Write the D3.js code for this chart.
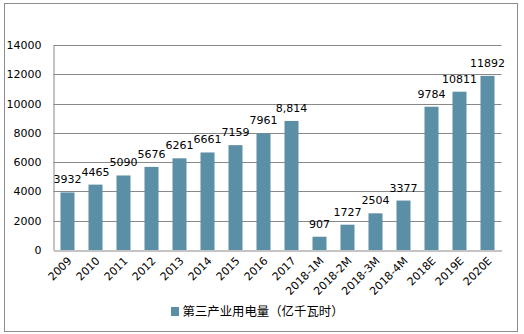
<!DOCTYPE html>
<html>
<head>
<meta charset="utf-8">
<script src="https://cdn.jsdelivr.net/npm/d3@7"></script>
<style>
  html, body { margin: 0; padding: 0; background: #fff; }
  svg { display: block; }
</style>
</head>
<body>
<svg id="chart" width="524" height="334"></svg>
<script>
// Tertiary-industry electricity consumption (100 million kWh)
const categories = ["2009", "2010", "2011", "2012", "2013", "2014", "2015", "2016", "2017",
  "2018-1M", "2018-2M", "2018-3M", "2018-4M", "2018E", "2019E", "2020E"];
const values = [3932, 4465, 5090, 5676, 6261, 6661, 7159, 7961, 8814,
  907, 1727, 2504, 3377, 9784, 10811, 11892];
// Categories whose value label is shown with thousands separators
const groupedLabels = ["2017"];
const yTicks = [0, 2000, 4000, 6000, 8000, 10000, 12000, 14000];
const seriesName = "第三产业用电量（亿千瓦时）";

const W = 524, H = 334;
const plot = { left: 53.5, right: 501.5, top: 45, bottom: 250 };
const barColor = "#5B8FA6";
const gridColor = "#888888";
const font = "'DejaVu Sans', Verdana, sans-serif";

const svg = d3.select("#chart");

// outer frame
svg.append("rect")
  .attr("x", 4.5).attr("y", 3.5)
  .attr("width", 513).attr("height", 328)
  .attr("fill", "#fff")
  .attr("stroke", "#8c8c8c").attr("stroke-width", 1);

const x = d3.scaleBand().domain(categories)
  .range([plot.left, plot.right]).paddingInner(0.5).paddingOuter(0.25);
const y = d3.scaleLinear().domain([0, 14000]).range([plot.bottom, plot.top]);

// horizontal gridlines
svg.append("g").selectAll("line").data(yTicks.filter(d => d > 0)).join("line")
  .attr("x1", plot.left).attr("x2", plot.right)
  .attr("y1", d => Math.round(y(d)) + 0.5).attr("y2", d => Math.round(y(d)) + 0.5)
  .attr("stroke", gridColor).attr("stroke-width", 1);

// y axis labels
const yAxis = svg.append("g")
  .attr("transform", `translate(${plot.left},0)`)
  .call(d3.axisLeft(y).tickValues(yTicks).tickSize(0).tickPadding(12).tickFormat(d3.format("d")));
yAxis.select(".domain").attr("stroke", gridColor);
yAxis.selectAll("text").attr("font-family", font).attr("font-size", 11).attr("fill", "#000");

// bars
svg.append("g").selectAll("rect").data(values).join("rect")
  .attr("x", (d, i) => x(categories[i]))
  .attr("y", d => y(d))
  .attr("width", x.bandwidth())
  .attr("height", d => plot.bottom - y(d))
  .attr("fill", barColor);

// x axis
const xAxis = svg.append("g")
  .attr("transform", `translate(0,${Math.round(plot.bottom) + 0.5})`)
  .call(d3.axisBottom(x).tickSize(0).tickSizeOuter(0));
xAxis.select(".domain").attr("stroke", gridColor);
xAxis.selectAll("text")
  .attr("font-family", font).attr("font-size", 11).attr("fill", "#000")
  .attr("text-anchor", "end")
  .attr("dy", null).attr("y", 0)
  .attr("transform", "translate(5,11) rotate(-45)");

// value labels
const plain = d3.format("d"), grouped = d3.format(",");
svg.append("g").selectAll("text").data(values).join("text")
  .attr("x", (d, i) => x(categories[i]) + x.bandwidth() / 2)
  .attr("y", d => y(d) - 9)
  .attr("text-anchor", "middle")
  .attr("font-family", font).attr("font-size", 11).attr("fill", "#000")
  .text((d, i) => groupedLabels.includes(categories[i]) ? grouped(d) : plain(d));

// legend
const legend = svg.append("g").attr("transform", "translate(171,307)");
legend.append("rect").attr("width", 8).attr("height", 9).attr("fill", barColor);
legend.append("text")
  .attr("x", 11.5).attr("y", 9)
  .attr("font-family", "'Noto Sans CJK SC', sans-serif").attr("font-size", 12.4)
  .attr("fill", "#000")
  .text(seriesName);
</script>
</body>
</html>
